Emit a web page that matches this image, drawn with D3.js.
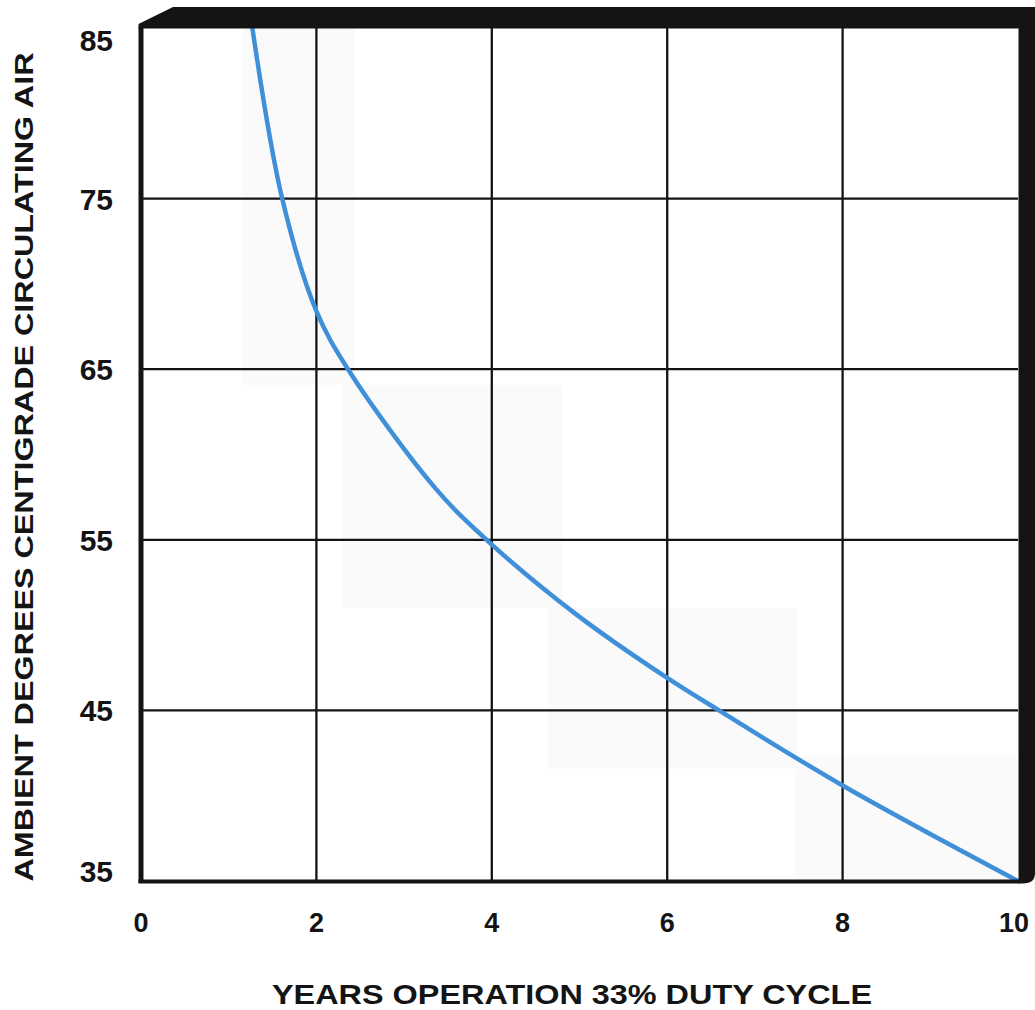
<!DOCTYPE html>
<html>
<head>
<meta charset="utf-8">
<script src="https://cdn.jsdelivr.net/npm/d3@7"></script>
<style>
  html, body { margin: 0; padding: 0; background: #ffffff; }
  svg { display: block; }
  text { font-family: "Liberation Sans", Arial, Helvetica, sans-serif; font-weight: bold; fill: #141414; }
</style>
</head>
<body>
<svg id="chart" width="1035" height="1010"></svg>
<script>
// Life curve: ambient temperature (°C) vs. years of operation at 33% duty cycle
const years = [1.27, 1.61, 2.0, 2.36, 3.36, 3.94, 4.97, 6.0, 6.59, 8.0, 10.0];
const tempC = [85, 75, 68.4, 65, 58.0, 55, 50.6, 46.9, 45, 40.6, 35];

const xTicks = [0, 2, 4, 6, 8, 10];
const yTicks = [35, 45, 55, 65, 75, 85];

const xTitle = "YEARS OPERATION 33% DUTY CYCLE";
const yTitle = "AMBIENT DEGREES CENTIGRADE CIRCULATING AIR";

// Light backing panels laid behind the curve (data units: x0, x1, y0, y1)
const panelX0 = [1.16, 2.29, 4.64, 7.46];
const panelX1 = [2.44, 4.81, 7.48, 10.0];
const panelY0 = [64.07, 51.0, 41.6, 35.06];
const panelY1 = [85, 64.07, 51.0, 42.3];

const svg = d3.select("#chart");
const W = 1035, H = 1010;

const x = d3.scaleLinear().domain([0, 10]).range([141, 1018]);
const y = d3.scaleLinear().domain([35, 85]).range([881, 28]);

// backing panels
svg.append("g").selectAll("rect")
  .data(d3.range(panelX0.length))
  .join("rect")
  .attr("x", i => x(panelX0[i]))
  .attr("y", i => y(panelY1[i]))
  .attr("width", i => x(panelX1[i]) - x(panelX0[i]))
  .attr("height", i => y(panelY0[i]) - y(panelY1[i]))
  .attr("fill", "#fafafa");

// grid lines (inner ticks only; the frame draws the outer ones)
const grid = svg.append("g").attr("stroke", "#141414").attr("stroke-width", 2.3);
grid.selectAll("line.v")
  .data(xTicks.slice(1, -1))
  .join("line")
  .attr("class", "v")
  .attr("x1", d => x(d)).attr("x2", d => x(d))
  .attr("y1", y(85)).attr("y2", y(35));
grid.selectAll("line.h")
  .data(yTicks.slice(1, -1))
  .join("line")
  .attr("class", "h")
  .attr("x1", x(0)).attr("x2", x(10))
  .attr("y1", d => y(d)).attr("y2", d => y(d));

// curve
const line = d3.line()
  .x((d, i) => x(years[i]))
  .y((d, i) => y(tempC[i]))
  .curve(d3.curveCatmullRom.alpha(0.5));

svg.append("path")
  .datum(tempC)
  .attr("d", line)
  .attr("fill", "none")
  .attr("stroke", "#3f90d8")
  .attr("stroke-width", 4.5)
  .attr("stroke-linecap", "round");

// frame: thin left and bottom edges, heavy top and right bands
const frame = svg.append("g").attr("fill", "#141414");
const x0 = x(0), x10 = x(10), yTop = y(85), yBot = y(35);

frame.append("rect")
  .attr("x", x0 - 2.5).attr("y", yTop - 1)
  .attr("width", 5).attr("height", yBot - yTop + 3);
frame.append("rect")
  .attr("x", x0 - 2.5).attr("y", yBot - 1.5)
  .attr("width", x10 - x0 + 4).attr("height", 4);

// top band with a bevelled left end
frame.append("path")
  .attr("d", d3.line()([
    [x0 - 2.5, yTop + 0.5],
    [x0 - 2.5, yTop - 4],
    [x0 + 32, 7],
    [W, 7],
    [W, yTop + 0.5]
  ]) + "Z");

// right band with a rounded lower outer corner
frame.append("path")
  .attr("d", `M${x10 + 0.5},${yTop} L${W},${yTop} L${W},${yBot - 8} ` +
             `Q${W},${yBot + 2.5} ${W - 12},${yBot + 2.5} L${x10 + 0.5},${yBot + 2.5} Z`);

// y tick labels
svg.append("g").selectAll("text")
  .data(yTicks)
  .join("text")
  .attr("x", 113)
  .attr("y", d => Math.min(Math.max(y(d), 40), 871) + 11)
  .attr("text-anchor", "end")
  .attr("font-size", 30)
  .text(d => d);

// x tick labels
svg.append("g").selectAll("text")
  .data(xTicks)
  .join("text")
  .attr("x", d => Math.min(Math.max(x(d), 138), 1014))
  .attr("y", 932)
  .attr("text-anchor", "middle")
  .attr("font-size", 27)
  .text(d => d);

// axis titles
svg.append("text")
  .attr("x", 572).attr("y", 1004)
  .attr("text-anchor", "middle")
  .attr("font-size", 28)
  .attr("textLength", 600)
  .attr("lengthAdjust", "spacingAndGlyphs")
  .text(xTitle);

svg.append("text")
  .attr("transform", "translate(33,467) rotate(-90)")
  .attr("text-anchor", "middle")
  .attr("font-size", 25)
  .attr("textLength", 829)
  .attr("lengthAdjust", "spacingAndGlyphs")
  .text(yTitle);
</script>
</body>
</html>
